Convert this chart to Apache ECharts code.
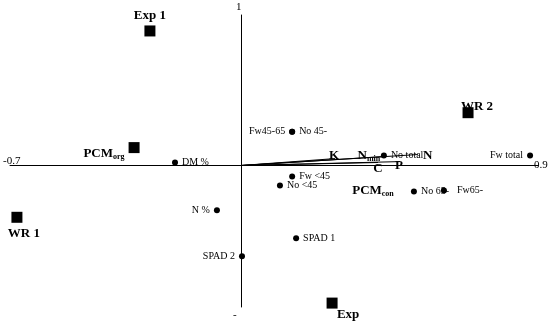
<!DOCTYPE html>
<html><head><meta charset="utf-8">
<script src="https://cdn.jsdelivr.net/npm/echarts@6/dist/echarts.min.js"></script>
<style>html,body{margin:0;padding:0;background:#fff}#c{width:550px;height:322px}</style>
</head><body><div id="c"></div>
<script>
// Axis extents and tick labels
const xRange = [-0.7, 0.9];
const yRange = [-0.94, 1];
const axisTickLabels = [
  {name: '-0.7', value: [-0.7, 0]},
  {name: '0.9', value: [0.9, 0]},
  {name: '1', value: [0, 1]},
  {name: '-', value: [0, -0.94]}
];
// Treatments (squares)
const treatNames = ['Exp 1', 'PCMorg', 'WR 1', 'WR 2', 'Exp'];
const treatX = [-0.276, -0.324, -0.679, 0.688, 0.276];
const treatY = [0.894, 0.119, -0.344, 0.351, -0.914];
// Label-only treatment
const textOnlyNames = ['PCMcon'];
const textOnlyX = [0.40];
const textOnlyY = [-0.166];
// Variables (dots)
const varNames = ['Fw45-65', 'No 45-', 'DM %', 'No total', 'Fw total', 'Fw <45', 'No <45', 'No 65-', 'Fw65-', 'N %', 'SPAD 2', 'SPAD 1'];
const varX = [0.155, 0.155, -0.200, 0.433, 0.876, 0.155, 0.118, 0.524, 0.615, -0.073, 0.003, 0.167];
const varY = [0.225, 0.225, 0.020, 0.066, 0.066, -0.073, -0.132, -0.172, -0.166, -0.298, -0.603, -0.483];
// Vectors from origin
const vecNames = ['K', 'Nmin', 'C', 'P', 'N'];
const vecX = [0.285, 0.436, 0.415, 0.482, 0.536];
const vecY = [0.046, 0.060, 0.020, 0.026, 0.073];

const FONT = 'Liberation Serif';
const richSub = {
  b: {fontFamily: FONT, fontWeight: 'bold', fontSize: 13, color: '#000'},
  s: {fontFamily: FONT, fontWeight: 'bold', fontSize: 8, color: '#000', padding: [6, 0, 0, 0]}
};
function fmt(name) {
  const m = {PCMorg: ['PCM', 'org'], PCMcon: ['PCM', 'con'], Nmin: ['N', 'min']};
  if (m[name]) return '{b|' + m[name][0] + '}{s|' + m[name][1] + '}';
  return '{b|' + name + '}';
}

// label placement (styling, not data)
const treatLabel = {
  'Exp 1': {position: 'top', distance: 3},
  'PCMorg': {position: 'left', distance: 4, offset: [0, 6]},
  'WR 1': {position: 'bottom', distance: 4, offset: [7, 0]},
  'WR 2': {position: 'top', distance: -6, offset: [9, 0]},
  'Exp': {position: 'bottom', distance: 0, offset: [16, 0]}
};
const varLabel = {
  'Fw45-65': 'left', 'No 45-': 'right', 'DM %': 'right', 'No total': 'right', 'Fw total': 'left',
  'Fw <45': 'right', 'No <45': 'right', 'No 65-': 'right', 'Fw65-': 'right', 'N %': 'left',
  'SPAD 2': 'left', 'SPAD 1': 'right'
};
const varDist = {'Fw65-': 10};
const vecLabel = {
  'K': {position: 'top', distance: -4, offset: [-1, 0]},
  'Nmin': {position: 'top', distance: -6, offset: [-16, 0]},
  'C': {position: 'bottom', distance: 0, offset: [0, 0]},
  'P': {position: 'bottom', distance: -2, offset: [-1, 0]},
  'N': {position: 'right', distance: 5, offset: [0, 1]}
};
const axisLabelPos = {
  '-0.7': [-7, -10], '0.9': [-4, -6], '1': [-5, -13], '-': [-8, 3]
};

const series = [];
vecNames.forEach((n, i) => {
  series.push({
    type: 'line', name: n, silent: true, symbol: 'none', z: 3,
    lineStyle: {color: '#000', width: 1},
    data: [
      {value: [0, 0]},
      {value: [vecX[i], vecY[i]], symbol: 'circle', symbolSize: 0,
       label: Object.assign({show: true, formatter: fmt(n), rich: richSub}, vecLabel[n])}
    ]
  });
});
series.push({
  type: 'scatter', symbol: 'rect', symbolSize: 11, itemStyle: {color: '#000', opacity: 1}, z: 5,
  data: treatNames.map((n, i) => ({
    name: n, value: [treatX[i], treatY[i]],
    label: Object.assign({show: true, formatter: fmt(n), rich: richSub}, treatLabel[n])
  }))
});
series.push({
  type: 'scatter', symbolSize: 0, z: 5, itemStyle: {color: '#000', opacity: 1},
  data: textOnlyNames.map((n, i) => ({
    name: n, value: [textOnlyX[i], textOnlyY[i]],
    label: {show: true, position: 'inside', color: '#000', formatter: fmt(n), rich: richSub}
  }))
});
series.push({
  type: 'scatter', symbol: 'circle', symbolSize: 6, itemStyle: {color: '#000', opacity: 1}, z: 5,
  data: varNames.map((n, i) => ({
    name: n, value: [varX[i], varY[i]],
    label: {show: true, position: varLabel[n], distance: varDist[n] || 4,
      formatter: n, fontFamily: FONT, fontSize: 10, color: '#000'}
  }))
});
series.push({
  type: 'scatter', symbolSize: 0, z: 5, silent: true, itemStyle: {color: '#000', opacity: 1},
  data: axisTickLabels.map(t => ({
    name: t.name, value: t.value,
    label: {show: true, position: axisLabelPos[t.name], formatter: t.name,
      fontFamily: FONT, fontSize: 11, color: '#000', align: 'left', verticalAlign: 'top'}
  }))
});

const chart = echarts.init(document.getElementById('c'), null, {renderer: 'canvas'});
chart.setOption({
  animation: false,
  backgroundColor: '#fff',
  grid: {left: 10, right: 12, top: 15, bottom: 15, containLabel: false},
  xAxis: {type: 'value', min: xRange[0], max: xRange[1],
    axisLine: {onZero: true, lineStyle: {color: '#000', width: 1}},
    axisTick: {show: false}, axisLabel: {show: false}, splitLine: {show: false}},
  yAxis: {type: 'value', min: yRange[0], max: yRange[1],
    axisLine: {onZero: true, lineStyle: {color: '#000', width: 1}},
    axisTick: {show: false}, axisLabel: {show: false}, splitLine: {show: false}},
  series: series
});
</script></body></html>
